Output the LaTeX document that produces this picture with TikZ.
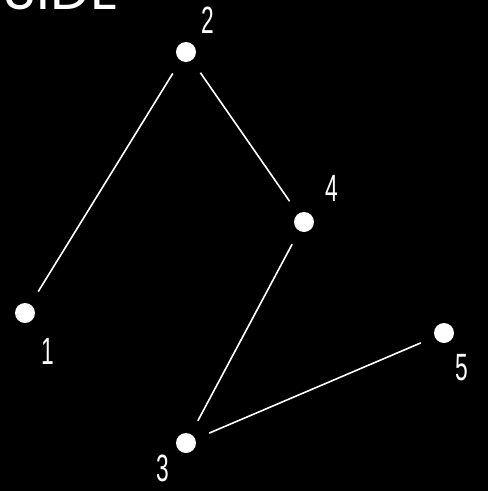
\documentclass[tikz,border=0pt]{standalone}
\usepackage{fontspec}
\setmainfont{Poppins}
\newfontfamily\digitfont[FakeStretch=0.6]{Liberation Sans}
\usetikzlibrary{positioning}
\tikzset{
  vertex/.style = {circle, fill=white, draw=none, minimum size=20pt, inner sep=0pt},
  tag/.style    = {text=white, inner sep=0pt, font=\digitfont\fontsize{38}{38}\selectfont},
  edge/.style   = {draw=white, line width=1.6pt, shorten <=15pt, shorten >=15pt},
}

\begin{document}
\begin{tikzpicture}[x=1pt, y=-1pt]
  \fill[black] (0,0) rectangle (488,491);
  \useasboundingbox (0,0) rectangle (488,491);

  \node[text=white, inner sep=0pt, anchor=base east, font=\fontsize{56}{56}\selectfont] (title) at (119,9) {SIDE};

  \node[vertex] (n2) at (186,52)  {};
  \node[vertex] (n1) at (25,313)  {};
  \node[vertex] (n4) at (304,222) {};
  \node[vertex] (n3) at (186,443) {};
  \node[vertex] (n5) at (444,333) {};

  \node[tag] (t2) at (208,20)  {2};
  \node[tag] (t1) at (48,351)  {1};
  \node[tag] (t4) at (332,188) {4};
  \node[tag] (t3) at (163,468) {3};
  \node[tag] (t5) at (462,368) {5};

  \draw[edge] (n2) -- (n1);
  \draw[edge] (n2) -- (n4);
  \draw[edge] (n4) -- (n3);
  \draw[edge] (n3) -- (n5);
\end{tikzpicture}
\end{document}
